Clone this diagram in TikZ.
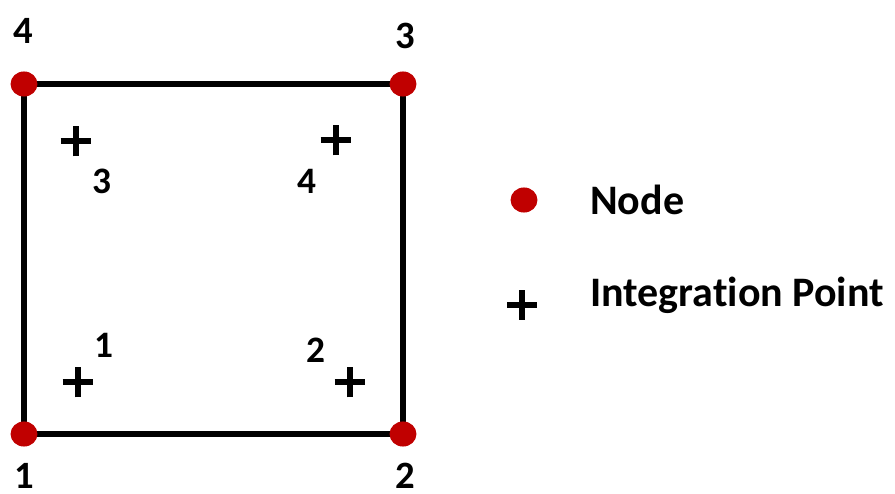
\documentclass[tikz,border=0pt]{standalone}
\usepackage{fontspec}
\setmainfont{Carlito}[Ligatures=NoCommon]
\definecolor{nodered}{HTML}{C00000}
\begin{document}
\begin{tikzpicture}[x=0.75pt,y=-0.75pt,
  biglab/.style={font=\fontsize{29}{30}\selectfont\bfseries,inner sep=0pt},
  smalllab/.style={font=\fontsize{28}{29}\selectfont\bfseries,inner sep=0pt},
  legtext/.style={font=\fontsize{31.5}{33}\selectfont\bfseries,inner sep=0pt,anchor=west},
  plusmark/.style={line width=3.8pt,black},
  edge/.style={line width=3.8pt,black}]
\useasboundingbox (0,0) rectangle (895,493);
% corner coordinates
\coordinate (c1) at (24,434);
\coordinate (c2) at (403,434);
\coordinate (c3) at (403,84);
\coordinate (c4) at (24,84);
\draw[edge] (c1) -- (c2) -- (c3) -- (c4) -- cycle;
\foreach \c in {c1,c2,c3,c4} \fill[nodered] (\c) ellipse (10.1pt and 9.4pt);
% corner labels
\node[biglab] (n4) at (23,31) {4};
\node[biglab] (n3) at (405,36) {3};
\node[biglab] (n1) at (24,476) {1};
\node[biglab] (n2) at (405,476) {2};
% integration points
\coordinate (p3) at (76,141);
\coordinate (p4) at (336,140);
\coordinate (p1) at (78,382);
\coordinate (p2) at (350,382);
\foreach \p in {p1,p2,p3,p4}{
  \draw[plusmark] ([xshift=-11.5pt]\p) -- ([xshift=11.5pt]\p);
  \draw[plusmark] ([yshift=-11.5pt]\p) -- ([yshift=11.5pt]\p);
}
\node[smalllab] (i3) at (102,181) {3};
\node[smalllab] (i4) at (307,181) {4};
\node[smalllab] (i1) at (104,345) {1};
\node[smalllab] (i2) at (316,350) {2};
% legend
\coordinate (ld) at (524,200);
\fill[nodered] (ld) ellipse (10.1pt and 9.4pt);
\node[legtext] (lnode) at (590,200) {Node};
\coordinate (lp) at (522,305);
\draw[plusmark] ([xshift=-11pt]lp) -- ([xshift=11pt]lp);
\draw[plusmark] ([yshift=-11pt]lp) -- ([yshift=11pt]lp);
\node[legtext] (lint) at (590,295) {Integration Point};
\end{tikzpicture}
\end{document}
